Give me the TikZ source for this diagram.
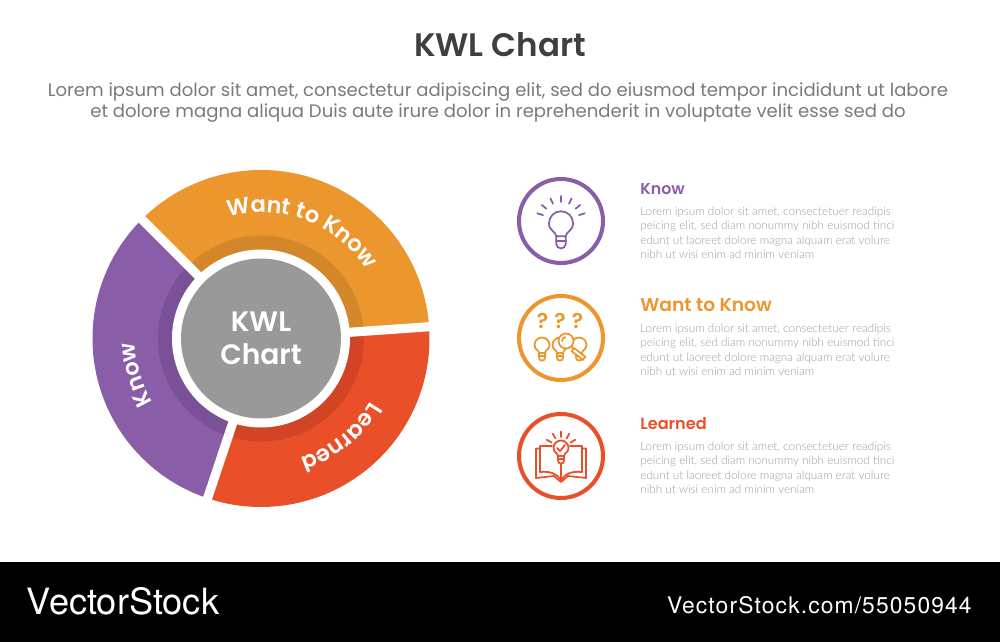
\documentclass[tikz,border=0pt]{standalone}
\usepackage{fontspec}
\usetikzlibrary{decorations.text}
\setmainfont{Poppins}[BoldFont=* SemiBold,ItalicFont=* Light]
\newfontfamily\bodyfont{Lato}[UprightFont=* Light]
\newfontfamily\footfont{TeX Gyre Heros}
\newfontfamily\urlfont{TeX Gyre Heros}[LetterSpace=4.9]
\definecolor{knowcol}{HTML}{8A5DA8}
\definecolor{wantcol}{HTML}{EC972D}
\definecolor{learncol}{HTML}{E94F28}
\definecolor{knowdark}{HTML}{7A5096}
\definecolor{wantdark}{HTML}{D3872A}
\definecolor{learndark}{HTML}{D14526}
\definecolor{hubcol}{HTML}{999999}
\definecolor{titlecol}{HTML}{3F3F3F}
\definecolor{introcol}{HTML}{7A7A7A}
\definecolor{bodycol}{HTML}{9C9C9C}
\newcommand{\loremtext}{Lorem ipsum dolor sit amet, consectetuer readipis\\peicing elit, sed diam nonummy nibh euismod tinci\\edunt ut laoreet dolore magna alquam erat volure\\nibh ut wisi enim ad minim veniam}
\tikzset{
	bulb/.pic={
		\draw[line join=round] (-2.6,-7) .. controls (-2.6,-4.6) and (-6.5,-4) .. (-6.5,0) arc[start angle=180,end angle=0,radius=6.5] .. controls (6.5,-4) and (2.6,-4.6) .. (2.6,-7) -- cycle;
		\draw (-2.6,-9.5) -- (2.6,-9.5);
		\draw (-2.6,-7) -- (-2.6,-11) arc[start angle=180,end angle=360,radius=2.6] -- (2.6,-7);
	}
}
\begin{document}
\begin{tikzpicture}[x=.02cm,y=.02cm]

	% style of the texts
	\tikzstyle{rowhead}=[anchor=west,inner sep=0pt,font=\bfseries]
	\tikzstyle{rowbody}=[anchor=north west,inner sep=0pt,align=left,text=bodycol,font=\bodyfont\fontsize{6.67}{8.2}\selectfont]
	\tikzstyle{rowring}=[line width=2.3pt]
	\tikzstyle{icon}=[line width=1pt,line cap=round]

	\useasboundingbox (0,0) rectangle (1000,642);
	\fill[black] (0,0) rectangle (1000,80);

	% heading
	\node[text=titlecol,font=\bfseries\fontsize{18.5}{23}\selectfont] (title) at (500,597.5) {KWL Chart};
	\node[text=introcol,align=center,font=\fontsize{10.28}{12.4}\selectfont] (intro) at (498,539.5) {Lorem ipsum dolor sit amet, consectetur adipiscing elit, sed do eiusmod tempor incididunt ut labore\\et dolore magna aliqua Duis aute irure dolor in reprehenderit in voluptate velit esse sed do};

	% the ring
	\coordinate (hub) at (261,303.5);
	\foreach \from/\to/\light/\dark in {4/135/wantcol/wantdark,135/251.5/knowcol/knowdark,251.5/364/learncol/learndark} {
		\fill[\light] (hub) -- ++(\from:168.5) arc[start angle=\from,end angle=\to,radius=168.5] -- cycle;
		\fill[\dark] (hub) -- ++(\from:103) arc[start angle=\from,end angle=\to,radius=103] -- cycle;
	}
	\foreach \gap in {4,135,251.5} {
		\draw[white,line width=5.2pt] (hub) -- ++(\gap:180);
	}
	\fill[white] (hub) circle (89);
	\node[circle,fill=hubcol,minimum size=3.2cm,inner sep=0pt,text=white,align=center,font=\bfseries\fontsize{16}{18.7}\selectfont] (hubtext) at (hub) {KWL\\Chart};

	% the labels on the ring
	\path[decorate,decoration={text along path,text align=center,text color=white,text={|\bfseries\fontsize{12.8}{15}\selectfont|Want to Know}}] (hub) ++(125:126) arc[start angle=125,end angle=13,radius=126];
	\path[decorate,decoration={text along path,text align=center,text color=white,text={|\bfseries\fontsize{12.8}{15}\selectfont|Know}}] (hub) ++(245:126) arc[start angle=245,end angle=147,radius=126];
	\path[decorate,decoration={text along path,text align=center,text color=white,text={|\bfseries\fontsize{12.8}{15}\selectfont|Learned}}] (hub) ++(-3.5:126) arc[start angle=-3.5,end angle=-98.5,radius=126];

	% the rows on the right
	\foreach \rowname/\rowcol/\rowy/\headsize/\heady/\rowtext in {know/knowcol/421/9/453/Know,want/wantcol/304/10.6/337/Want to Know,learn/learncol/186/9.2/218.5/Learned} {
		\draw[rowring,\rowcol] (561,\rowy) circle (42);
		\node[rowhead,text=\rowcol,font=\bfseries\fontsize{\headsize}{12}\selectfont] (\rowname head) at (640,\heady) {\rowtext};
		\node[rowbody] (\rowname body) at (640,\rowy+14.5) {\loremtext};
	}

	% know icon
	\begin{scope}[shift={(561,421)},icon,knowcol]
		\pic[scale=1.85] at (0,-2.3) {bulb};
		\foreach \ang in {90,65,40,18,115,140,162} {
			\draw (\ang:19) -- (\ang:25);
		}
	\end{scope}

	% want icon
	\begin{scope}[shift={(561,304)},icon,wantcol]
		\node[text=wantcol,font=\bfseries\fontsize{12}{15}\selectfont] (qone) at (-18.5,17) {?};
		\node[text=wantcol,font=\bfseries\fontsize{12}{15}\selectfont] (qtwo) at (-1,17) {?};
		\node[text=wantcol,font=\bfseries\fontsize{12}{15}\selectfont] (qthree) at (16.5,17) {?};
		\pic[scale=1.15] at (-19,-7) {bulb};
		\pic[scale=1.15] at (-1,-7) {bulb};
		\pic[scale=1.15] at (18,-7) {bulb};
		\draw[fill=white] (5,-3) circle (7.5);
		\draw (1,-3) arc[start angle=180,end angle=100,radius=4];
		\draw[fill=white,rotate around={-38:(17.5,-16)}] (10.5,-18) rectangle (24.5,-14);
	\end{scope}

	% learned icon
	\begin{scope}[shift={(561,186)},icon,learncol,line join=round]
		\draw (-9,10) -- (-21,10) -- (-21,-16) .. controls (-10,-15) and (-4,-18) .. (0,-24) .. controls (4,-18) and (10,-15) .. (21,-16) -- (21,10) -- (9,10);
		\draw (-21,7.5) -- (-25,7.5) -- (-25,-22) -- (-7,-20) -- (0,-26) -- (7,-20) -- (25,-22) -- (25,7.5) -- (21,7.5);
		\draw (0,-24) -- (0,-8);
		\pic[scale=1.15] at (0,8) {bulb};
		\draw (-4,8) -- (-1,5) -- (4,11);
		\foreach \ang in {90,60,30,120,150} {
			\draw (0,8) ++(\ang:11) -- ++(\ang:5.5);
		}
	\end{scope}

	% footer
	\node[anchor=west,inner sep=0pt,text=white,font=\footfont\fontsize{20.6}{24}\selectfont] (brand) at (26.5,41) {VectorStock};
	\node[anchor=east,inner sep=0pt,text=white,font=\urlfont\fontsize{13}{15}\selectfont] (brandurl) at (972,37) {VectorStock.com/55050944};

\end{tikzpicture}
\end{document}
